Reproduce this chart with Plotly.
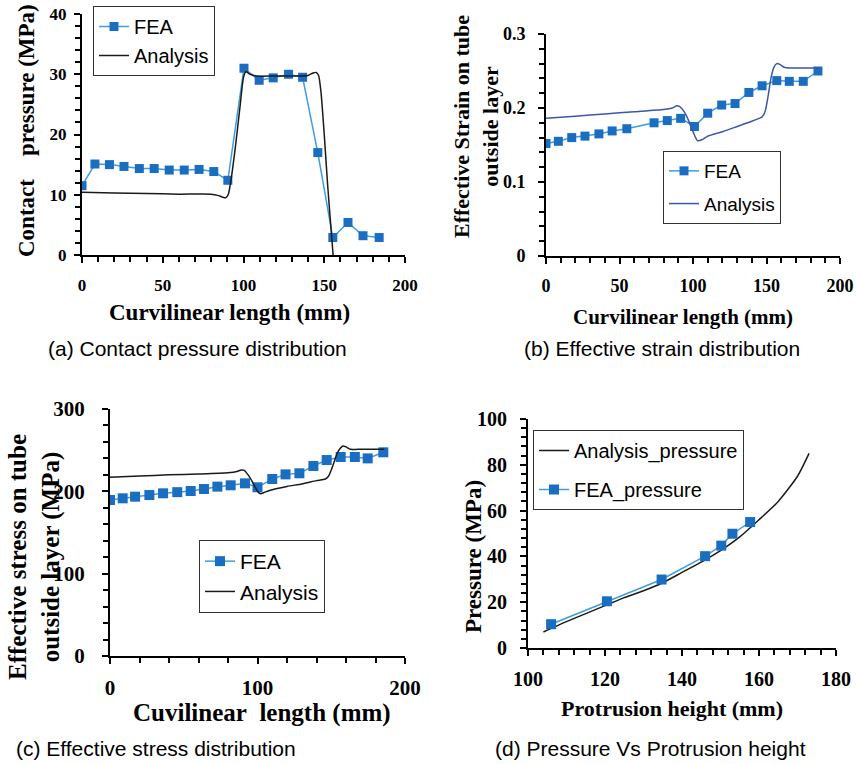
import plotly.graph_objects as go

W, H = 856, 764

# ---------------- data ----------------
# (a) contact pressure
a_fea_x = [0, 8, 17, 26, 35.5, 44.7, 54, 63.3, 72.5, 81.6, 90.3, 100.3, 109.7, 118.4, 127.9, 136.6, 146, 155.3, 164.7, 174, 184]
a_fea_y = [11.5, 15.1, 15.0, 14.7, 14.35, 14.35, 14.1, 14.1, 14.2, 13.85, 12.4, 31.0, 29.0, 29.4, 30.0, 29.5, 17.0, 2.9, 5.4, 3.2, 2.9]
a_an_x = [0, 20, 40, 60, 80, 84, 87, 89, 90.5, 92, 95, 98, 100, 101.5, 104, 108, 120, 130, 140, 143, 145, 146.5, 148, 150, 152, 154, 155.5]
a_an_y = [10.4, 10.3, 10.2, 10.1, 10.1, 9.9, 9.6, 9.5, 10.0, 12.0, 18.0, 25.0, 29.5, 30.4, 30.0, 29.7, 29.7, 29.7, 29.8, 30.2, 30.3, 29.8, 27.0, 20.0, 12.0, 5.0, 0.0]

# (b) effective strain
b_fea_x = [0, 8.4, 17.5, 26.5, 36, 45, 55, 73.5, 82.5, 91.6, 101, 110, 119.5, 128.6, 138, 147, 157, 165.5, 175, 185]
b_fea_y = [0.152, 0.155, 0.160, 0.162, 0.165, 0.169, 0.172, 0.180, 0.183, 0.186, 0.175, 0.193, 0.204, 0.206, 0.221, 0.230, 0.237, 0.236, 0.236, 0.250]
b_an_x = [0, 20, 40, 60, 80, 86, 89, 91, 94, 97, 100, 103, 106, 110, 120, 130, 140, 145, 147, 149, 151, 153, 155, 157, 159, 162, 166, 175, 186]
b_an_y = [0.186, 0.189, 0.192, 0.195, 0.198, 0.200, 0.203, 0.202, 0.195, 0.183, 0.168, 0.156, 0.157, 0.162, 0.168, 0.175, 0.182, 0.186, 0.188, 0.195, 0.215, 0.240, 0.255, 0.260, 0.259, 0.255, 0.254, 0.254, 0.254]

# (c) effective stress
c_fea_x = [0, 8.6, 17, 26.7, 36, 45.6, 54.7, 63.7, 72.8, 81.8, 91.5, 100, 110, 119, 128.4, 137.9, 146.9, 156.4, 166, 174.7, 185.3]
c_fea_y = [189.5, 191.5, 193.5, 195.5, 197.6, 199, 200.4, 202.8, 205.7, 207.3, 209.7, 204.9, 215, 220.6, 221.9, 230.8, 238, 241.7, 241.7, 240, 247.4]
c_an_x = [0, 20, 40, 60, 80, 86, 89, 91, 94, 97, 100, 102, 105, 110, 120, 130, 140, 146, 148, 150, 152, 154, 156, 158, 160, 163, 168, 186]
c_an_y = [217, 218.5, 220, 221, 222.5, 224, 226, 225.5, 219, 210, 200, 197, 199, 202, 206, 209, 213, 215, 218, 226, 236, 246, 252, 255, 254, 251, 251, 251]

# (d) pressure vs protrusion height
d_fea_x = [106, 120.5, 134.7, 146, 150.2, 153.1, 157.7]
d_fea_y = [10.4, 20.4, 29.9, 40.1, 44.7, 49.9, 55.0]
d_an_x = [104, 110, 115, 120, 125, 130, 135, 140, 145, 150, 155, 160, 165, 170, 173]
d_an_y = [7.0, 11.5, 15.0, 18.5, 22.0, 25.0, 28.5, 33.0, 37.5, 42.5, 48.5, 56.0, 64.0, 75.0, 85.0]

FEA_MK = "#1a6ec2"
FEA_LN = "#3d9ddf"
DARK = "#1a1a1a"
BLUE_AN = "#3a58ab"

SERIF = "Liberation Serif"
SANS = "Liberation Sans"

def px(x):
    return x / W

def py(y):
    return 1 - y / H

fig = go.Figure()

def fea(x, y, xa, ya, leg, name, msize=9):
    fig.add_trace(go.Scatter(x=x, y=y, mode="lines+markers", name=name,
                             line=dict(color=FEA_LN, width=1.5),
                             marker=dict(symbol="square", size=msize, color=FEA_MK),
                             xaxis=xa, yaxis=ya, legend=leg, legendgroup=leg + name))

def ana(x, y, xa, ya, leg, name, color):
    fig.add_trace(go.Scatter(x=x, y=y, mode="lines", name=name,
                             line=dict(color=color, width=1.5, shape="spline", smoothing=0.6),
                             xaxis=xa, yaxis=ya, legend=leg, legendgroup=leg + name))

fea(a_fea_x, a_fea_y, "x", "y", "legend", "FEA")
ana(a_an_x, a_an_y, "x", "y", "legend", "Analysis", DARK)
fea(b_fea_x, b_fea_y, "x2", "y2", "legend2", "FEA")
ana(b_an_x, b_an_y, "x2", "y2", "legend2", "Analysis", BLUE_AN)
fea(c_fea_x, c_fea_y, "x3", "y3", "legend3", "FEA", 10)
ana(c_an_x, c_an_y, "x3", "y3", "legend3", "Analysis", DARK)
ana(d_an_x, d_an_y, "x4", "y4", "legend4", "Analysis_pressure", DARK)
fea(d_fea_x, d_fea_y, "x4", "y4", "legend4", "FEA_pressure", 10)

def axis(dom, rng, dtick, mdtick, fs, anchor, standoff):
    return dict(domain=dom, range=rng, dtick=dtick, tick0=rng[0], anchor=anchor,
                automargin=False,
                showline=True, linecolor="black", linewidth=2, mirror=False,
                showgrid=False, zeroline=False,
                ticks="outside", ticklen=6, tickwidth=2, tickcolor="black",
                minor=dict(dtick=mdtick, tick0=rng[0], ticks="outside", ticklen=5, tickwidth=2, tickcolor="black", showgrid=False),
                tickfont=dict(family=SERIF, size=fs, color="black", weight="bold"),
                ticklabelstandoff=standoff)

layout = dict(
    width=W, height=H, margin=dict(l=0, r=0, t=0, b=0, autoexpand=False),
    paper_bgcolor="white", plot_bgcolor="white",
    xaxis=axis([px(82), px(405)], [0, 200], 50, 10, 17, "y", 8),
    yaxis=axis([py(255), py(14)], [0, 40], 10, 2, 17, "x", 4),
    xaxis2=axis([px(546), px(840)], [0, 200], 50, 10, 18, "y2", 6),
    yaxis2=axis([py(256), py(34)], [0, 0.3], 0.1, 0.02, 18, "x2", 9),
    xaxis3=axis([px(110), px(405)], [0, 200], 100, 20, 21, "y3", 6),
    yaxis3=axis([py(656), py(409)], [0, 300], 100, 20, 21, "x3", 13),
    xaxis4=axis([px(528), px(836)], [100, 180], 20, 4, 20, "y4", 6),
    yaxis4=axis([py(648), py(419)], [0, 100], 20, 4, 20, "x4", 9),
)

def legend(x, y, fs, gap):
    return dict(x=px(x), y=py(y), xanchor="left", yanchor="top",
                bgcolor="white", bordercolor="#333333", borderwidth=1,
                font=dict(family=SANS, size=fs, color="black"),
                itemwidth=30, tracegroupgap=gap, traceorder="grouped")

layout["legend"] = legend(93, 6, 20, 0)
layout["legend2"] = legend(663, 151, 19, 5)
layout["legend3"] = legend(199, 540, 21, 0)
layout["legend4"] = legend(533, 430, 20, 10)

fig.update_layout(**layout)

def note(text, x, y, fs, fam, bold=False, angle=0):
    fig.add_annotation(text=text, x=px(x), y=py(y), xref="paper", yref="paper",
                       xanchor="center", yanchor="middle", showarrow=False, textangle=angle,
                       font=dict(family=fam, size=fs, color="black", weight="bold" if bold else "normal"))

nb = "\u00a0"
# axis titles
note("Curvilinear length (mm)", 229, 313, 23, SERIF, True)
note("Contact" + nb * 4 + "pressure (MPa)", 27, 131, 23, SERIF, True, -90)
note("Curvilinear length (mm)", 683, 317, 21, SERIF, True)
note("Effective Strain on tube<br>outside layer", 476, 127, 22, SERIF, True, -90)
note("Cuvilinear" + nb * 2 + "length (mm)", 262, 713, 25, SERIF, True)
note("Effective stress on tube<br>outside layer (MPa)", 34, 557, 25, SERIF, True, -90)
note("Protrusion height (mm)", 672, 708, 22, SERIF, True)
note("Pressure (MPa)", 473, 557, 23, SERIF, True, -90)

# captions
note("(a) Contact pressure distribution", 197, 348, 21, SANS)
note("(b) Effective strain distribution", 662, 348, 21, SANS)
note("(c) Effective stress distribution", 156, 748, 21, SANS)
note("(d) Pressure Vs Protrusion height", 650, 748, 21, SANS)

fig.write_html("out.html")
